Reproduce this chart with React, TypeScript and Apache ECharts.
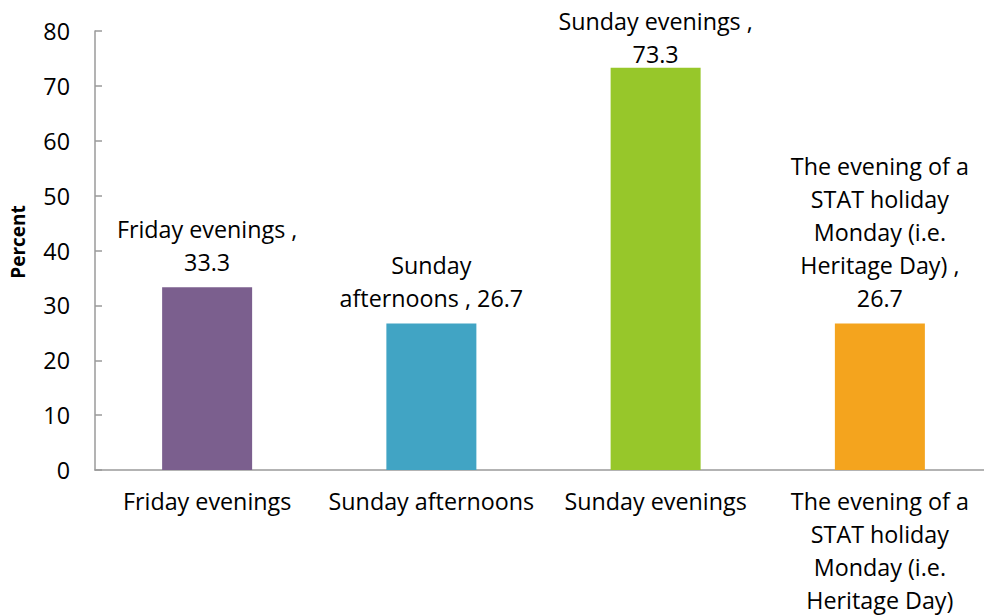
import React, { useEffect, useRef } from "react";
import * as echarts from "echarts";

const categories = [
  "Friday evenings",
  "Sunday afternoons",
  "Sunday evenings",
  "The evening of a\nSTAT holiday\nMonday (i.e.\nHeritage Day)",
];
const values = [33.3, 26.7, 73.3, 26.7];
const labelPrefixes = [
  "Friday evenings ,\n",
  "Sunday\nafternoons , ",
  "Sunday evenings ,\n",
  "The evening of a\nSTAT holiday\nMonday (i.e.\nHeritage Day) ,\n",
];
const barColors = ["#7B5F8E", "#41A4C4", "#97C72A", "#F4A41E"];
const yTicks = { min: 0, max: 80, interval: 10 };
const yTitle = "Percent";

const FONT = "'Open Sans', sans-serif";
const FS = 23.3;

export default function App() {
  const ref = useRef<HTMLDivElement>(null);
  useEffect(() => {
    if (!ref.current) return;
    const chart = echarts.init(ref.current, null, { renderer: "svg" });
    chart.setOption({
      animation: false,
      backgroundColor: "#ffffff",
      textStyle: { fontFamily: FONT },
      grid: {
        left: 95,
        width: 897,
        top: 31,
        height: 439,
        containLabel: false,
        outerBoundsMode: "none",
      },
      graphic: [
        {
          type: "text",
          x: 18,
          y: 242,
          rotation: Math.PI / 2,
          style: {
            text: yTitle,
            fontFamily: FONT,
            fontWeight: "bold",
            fontSize: 19,
            fill: "#000",
            align: "center",
            verticalAlign: "middle",
          },
        },
      ],
      xAxis: {
        type: "category",
        data: categories,
        axisLine: { lineStyle: { color: "#9a9a9a", width: 1.5 } },
        axisTick: { inside: true, length: 7, lineStyle: { color: "#9a9a9a", width: 1.5 } },
        axisLabel: {
          interval: 0,
          color: "#000",
          fontFamily: FONT,
          fontSize: FS,
          lineHeight: 33,
          margin: 14,
        },
      },
      yAxis: {
        type: "value",
        min: yTicks.min,
        max: yTicks.max,
        interval: yTicks.interval,
        splitLine: { show: false },
        axisLine: { show: true, lineStyle: { color: "#9a9a9a", width: 1.5 } },
        axisTick: { show: true, inside: true, length: 7, lineStyle: { color: "#9a9a9a", width: 1.5 } },
        axisLabel: {
          color: "#000",
          fontFamily: FONT,
          fontSize: FS,
          margin: 25,
        },
      },
      series: [
        {
          type: "bar",
          barWidth: 90,
          data: values.map((v, i) => ({
            value: v,
            itemStyle: { color: barColors[i] },
            // labels of tall bars are pushed down so they stay inside the chart
            label: v > 70 ? { distance: -3 } : undefined,
          })),
          label: {
            show: true,
            position: "top",
            distance: 9,
            color: "#000",
            fontFamily: FONT,
            fontSize: FS,
            lineHeight: 33,
            align: "center",
            formatter: (p: any) => labelPrefixes[p.dataIndex] + Number(p.value).toFixed(1),
          },
        },
      ],
    });
    return () => chart.dispose();
  }, []);
  return (
    <div
      ref={ref}
      style={{ position: "fixed", left: 0, top: 0, width: 984, height: 616 }}
    />
  );
}
